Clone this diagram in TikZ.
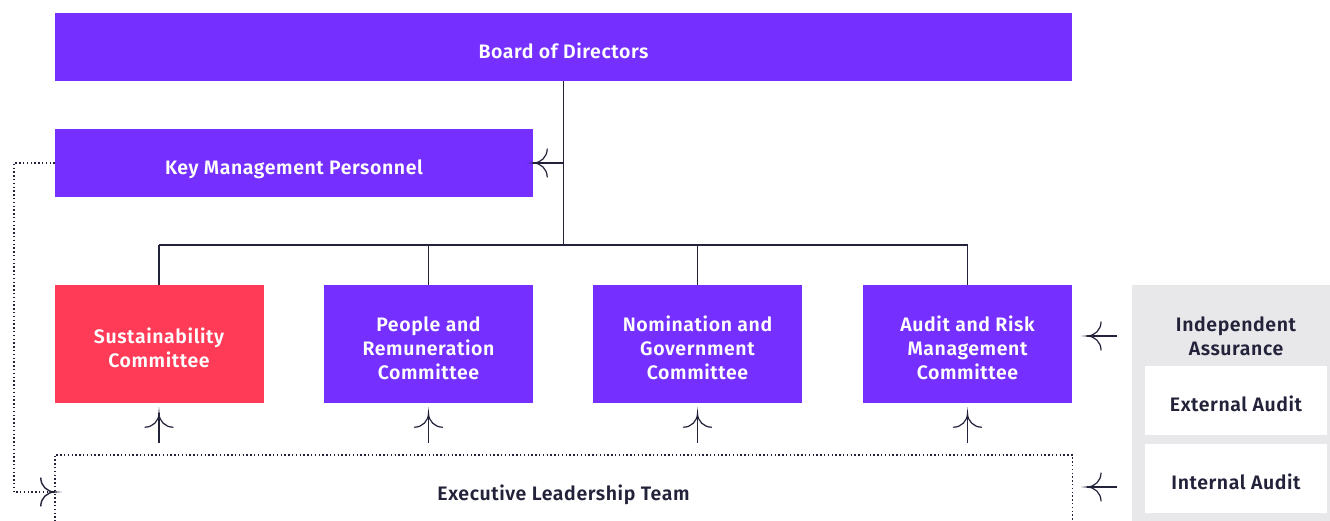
\documentclass[tikz,border=0pt]{standalone}
\usepackage{fontspec}
\setmainfont{Fira Sans}[BoldFont={Fira Sans SemiBold}, BoldFeatures={LetterSpace=3}]
\usetikzlibrary{arrows.meta,calc}
\definecolor{brandpurple}{HTML}{7530FF}
\definecolor{brandred}{HTML}{FF3B57}
\definecolor{panelgrey}{HTML}{E8E8EB}
\definecolor{inkdark}{HTML}{22223A}
\pgfdeclarearrow{
  name = CBarb,
  defaults = {length = 14pt},
  setup code = {
    \pgfarrowssettipend{0pt}
    \pgfarrowssetlineend{0pt}
    \pgfarrowssetvisualbackend{-\pgfarrowlength}
    \pgfarrowssetbackend{-\pgfarrowlength}
    \pgfarrowshullpoint{0pt}{0pt}
    \pgfarrowshullpoint{-\pgfarrowlength}{\pgfarrowlength}
    \pgfarrowshullpoint{-\pgfarrowlength}{-\pgfarrowlength}
    \pgfarrowssavethe\pgfarrowlength
  },
  drawing code = {
    \pgfsetdash{}{0pt}
    \pgfsetroundcap
    \pgfpathmoveto{\pgfqpoint{-\pgfarrowlength}{\pgfarrowlength}}
    \pgfpatharc{180}{270}{\pgfarrowlength}
    \pgfpatharc{90}{180}{\pgfarrowlength}
    \pgfusepathqstroke
  },
  parameters = {\the\pgfarrowlength},
}
\tikzset{
  boxtext/.style={font=\fontsize{19.5}{24}\selectfont\bfseries, align=center, inner sep=0pt},
  oneline/.style={text height=#1, text depth=0pt},
  purplebox/.style={boxtext, rectangle, fill=brandpurple, text=white},
  redbox/.style={boxtext, rectangle, fill=brandred, text=white},
  whitebox/.style={boxtext, rectangle, fill=white, text=inkdark},
  committee/.style={rectangle, inner sep=0pt, minimum width=209pt, minimum height=118pt},
  ctext/.style={boxtext, text=white, yshift=-4pt},
  conn/.style={draw=inkdark, line width=1.2pt},
  arr/.style={draw=inkdark, line width=1.2pt, -{CBarb[length=14pt]}},
  dotline/.style={draw=inkdark, line width=1.4pt, dash pattern=on 1.4pt off 2.4pt},
}
\begin{document}
\begin{tikzpicture}[x=1pt, y=-1pt]
\useasboundingbox (0,0) rectangle (1330,521);
\fill[white] (0,0) rectangle (1330,521);
% boxes
\node[purplebox, oneline=23.4pt, minimum width=1017pt, minimum height=68pt] (board) at (563.5,47) {Board of Directors};
\node[purplebox, oneline=23.4pt, minimum width=478pt, minimum height=68pt] (kmp) at (294,163) {Key Management Personnel};
\node[committee, fill=brandred] (sust) at (159,344) {};
\node[ctext] (susttxt) at (sust.center) {Sustainability\\Committee};
\node[committee, fill=brandpurple] (people) at (428.5,344) {};
\node[ctext] (peopletxt) at (people.center) {People and\\Remuneration\\Committee};
\node[committee, fill=brandpurple] (nom) at (697.5,344) {};
\node[ctext] (nomtxt) at (nom.center) {Nomination and\\Government\\Committee};
\node[committee, fill=brandpurple] (audit) at (967.5,344) {};
\node[ctext] (audittxt) at (audit.center) {Audit and Risk\\Management\\Committee};
\node[boxtext, oneline=17.4pt, text=inkdark, minimum width=1017pt, minimum height=74pt] (elt) at (563.5,492) {Executive Leadership Team};
% independent assurance panel
\fill[panelgrey] (1132,285) rectangle (1340,521);
\node[boxtext, text=inkdark] (ia) at (1236,336) {Independent\\Assurance};
\node[whitebox, oneline=22.4pt, minimum width=182pt, minimum height=69pt] (ext) at (1236,400.5) {External Audit};
\node[whitebox, oneline=22.4pt, minimum width=182pt, minimum height=69pt] (int) at (1236,478.5) {Internal Audit};
\coordinate (iaw) at (1132,336);
% connectors
\coordinate (j) at (board.south |- 0,245);
\draw[conn] (board.south) -- (j);
\draw[conn] (j -| sust.north) -- (j -| audit.north);
\foreach \b in {sust,people,nom,audit} {
  \draw[conn] (j -| \b.north) -- (\b.north);
  \draw[arr] ($(\b.south)+(0,40)$) -- ($(\b.south)+(0,10)$);
}
\draw[arr] (board.south |- kmp.east) -- (kmp.east);
\draw[arr] ($(iaw)+(-15,0)$) -- ($(iaw)+(-45,0)$);
\draw[arr] ($(iaw |- elt.east)+(-15,-5)$) -- ($(iaw |- elt.east)+(-45,-5)$);
% ELT dotted frame
\draw[dotline] (elt.south west) -- (elt.north west) -- (elt.north east) -- (elt.south east);
\draw[dotline, -{CBarb[length=14pt]}] (kmp.west) -- ++(-41,0) |- (elt.west);
\end{tikzpicture}
\end{document}
